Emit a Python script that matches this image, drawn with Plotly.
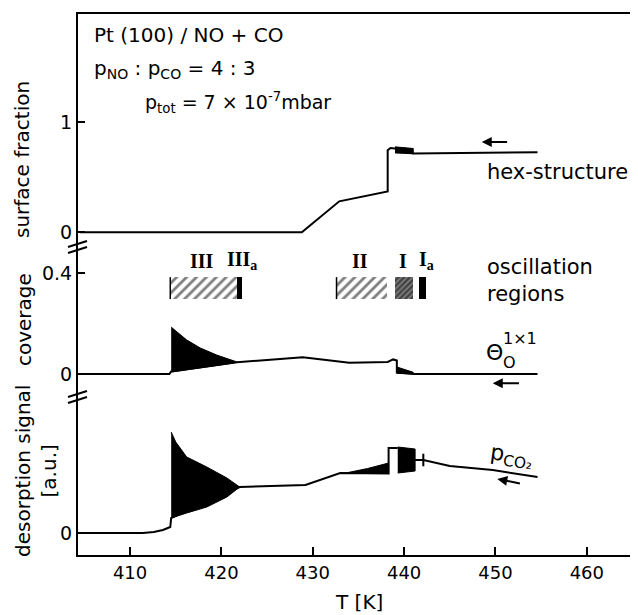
import plotly.graph_objects as go

# ---------------- data ----------------
# top panel: hex-structure (surface fraction)
hex_T = [404.5, 428.8, 432.9, 438.2, 438.2, 438.5, 439.0, 441.0, 454.6]
hex_val = [0.0, 0.0, 0.28, 0.37, 0.745, 0.765, 0.76, 0.715, 0.727]
hex_osc_T = [439.0, 440.0, 441.0]
hex_osc_hi = [0.775, 0.77, 0.76]
hex_osc_lo = [0.72, 0.715, 0.712]

# middle panel: coverage theta_O(1x1)
cov_T = [404.5, 414.3, 414.5, 421.7, 425.0, 428.9, 431.0, 434.0, 438.2, 438.8, 439.2, 439.2, 441.0, 454.6]
cov_val = [0.0, 0.0, 0.01, 0.047, 0.056, 0.067, 0.058, 0.045, 0.048, 0.058, 0.054, 0.006, 0.0, 0.0]
cov_osc_T = [414.5, 415.5, 416.2, 417.7, 419.5, 421.7]
cov_osc_hi = [0.186, 0.155, 0.135, 0.103, 0.075, 0.048]
cov_osc_lo = [0.008, 0.012, 0.016, 0.024, 0.034, 0.046]
cov_osc2_T = [439.2, 440.0, 441.0]
cov_osc2_hi = [0.028, 0.018, 0.007]
cov_osc2_lo = [0.003, 0.002, 0.001]

# oscillation regions
reg_names = ["III", "III<sub>a</sub>", "II", "I", "I<sub>a</sub>"]
reg_start = [414.4, 421.7, 432.6, 439.0, 441.6]
reg_end = [421.7, 422.3, 438.1, 441.0, 442.4]
reg_label_T = [417.9, 422.3, 435.2, 439.9, 442.5]
reg_lo, reg_hi = 0.297, 0.384

# bottom panel: desorption signal p_CO2 (a.u.)
des_T = [404.5, 411.4, 412.6, 413.6, 414.4, 414.5, 422.0, 429.2, 433.0, 438.3, 438.3, 439.3]
des_val = [0.0, 0.0, 0.01, 0.03, 0.06, 0.15, 0.46, 0.48, 0.60, 0.595, 0.85, 0.85]
des_tail_T = [441.2, 442.1, 445.0, 449.7, 454.6]
des_tail_val = [0.73, 0.73, 0.67, 0.63, 0.56]
des_osc_T = [414.5, 415.0, 416.2, 418.4, 420.6, 422.0]
des_osc_hi = [1.01, 0.91, 0.76, 0.66, 0.55, 0.46]
des_osc_lo = [0.15, 0.16, 0.20, 0.26, 0.36, 0.46]
des_wedge_T = [433.6, 436.0, 438.3]
des_wedge_hi = [0.60, 0.645, 0.70]
des_wedge_lo = [0.595, 0.595, 0.595]
des_block_T = [439.3, 441.2]
des_block_hi = [0.86, 0.84]
des_block_lo = [0.60, 0.62]

x_ticks = [410, 420, 430, 440, 450, 460]

# ---------------- figure ----------------
# page has an 8px body margin, so the figure is 8px smaller on each side
OFF = 8
W, H = 630, 607
ML, MR, MT, MB = 70, 0, 5, 60
PW, PH = W - ML - MR, H - MT - MB

def px(x):  # screen pixel -> paper
    return (x - OFF - ML) / PW

def py(y):
    return (OFF + H - MB - y) / PH

FONT = "DejaVu Sans"
LW = 2

fig = go.Figure()

def line(xs, ys, ax):
    fig.add_trace(go.Scatter(x=xs, y=ys, yaxis=ax, mode="lines",
                             line=dict(color="black", width=LW), hoverinfo="skip"))

def band(xs, hi, lo, ax):
    fig.add_trace(go.Scatter(x=list(xs) + list(xs)[::-1], y=list(hi) + list(lo)[::-1],
                             yaxis=ax, mode="lines", fill="toself", fillcolor="black",
                             line=dict(color="black", width=1), hoverinfo="skip"))

# top
line(hex_T, hex_val, "y3")
band(hex_osc_T, hex_osc_hi, hex_osc_lo, "y3")
# middle
line(cov_T, cov_val, "y2")
band(cov_osc_T, cov_osc_hi, cov_osc_lo, "y2")
band(cov_osc2_T, cov_osc2_hi, cov_osc2_lo, "y2")
# regions
hatch = dict(color="white", pattern=dict(shape="/", fgcolor="black", bgcolor="white", size=7, solidity=0.4))
styles = [
    hatch,
    dict(color="black"),
    hatch,
    dict(color="black", pattern=dict(shape="/", fgcolor="black", bgcolor="#888", size=4, solidity=0.65)),
    dict(color="black"),
]
for s, e, st in zip(reg_start, reg_end, styles):
    fig.add_trace(go.Bar(x=[(s + e) / 2], width=[e - s], base=[reg_lo], y=[reg_hi - reg_lo],
                         yaxis="y2", marker=dict(line=dict(width=0), **st), hoverinfo="skip"))
# left edges of the hatched region bars
fig.add_trace(go.Scatter(x=[reg_start[0], reg_start[0], None, reg_start[2], reg_start[2]],
                         y=[reg_lo, reg_hi, None, reg_lo, reg_hi], yaxis="y2", mode="lines",
                         line=dict(color="black", width=1.5), hoverinfo="skip"))
# bottom
line(des_T, des_val, "y")
line(des_tail_T, des_tail_val, "y")
band(des_osc_T, des_osc_hi, des_osc_lo, "y")
band(des_wedge_T, des_wedge_hi, des_wedge_lo, "y")
band(des_block_T, des_block_hi, des_block_lo, "y")
fig.add_trace(go.Scatter(x=[des_tail_T[1]], y=[des_tail_val[1]], yaxis="y", mode="markers",
                         marker=dict(symbol="line-ns", size=9, line=dict(color="black", width=2)),
                         hoverinfo="skip"))

ann = []
def text(x, y, t, yref, size=21, xanchor="left", **kw):
    ann.append(dict(x=x, y=y, xref="x", yref=yref, text=t, showarrow=False,
                    xanchor=xanchor, yanchor="middle", font=dict(family=FONT, size=size, color="black"), **kw))

# header texts (paper)
for x0, y0, t, sz in [(92, 35, "Pt (100) / NO + CO", 20),
                      (92, 69, "p<sub>NO</sub> : p<sub>CO</sub> = 4 : 3", 20),
                      (143, 103, "p<sub>tot</sub> = 7 × 10<sup>-7</sup>mbar", 19)]:
    ann.append(dict(x=px(x0), y=py(y0), xref="paper", yref="paper", text=t, showarrow=False,
                    xanchor="left", yanchor="middle", font=dict(family=FONT, size=sz, color="black")))

text(448.8, 0.545, "hex-structure", "y3")
text(448.8, 0.372, "oscillation<br>regions", "y2", align="left")
text(448.7, 0.087, "Θ", "y2", size=22)
text(450.6, 0.045, "O", "y2", size=16)
text(450.6, 0.142, "1×1", "y2", size=16)
text(451.8, 0.77, "p<sub>CO₂</sub>", "y", size=22, xanchor="center", textangle=8)

for name, t in zip(reg_names, reg_label_T):
    ann.append(dict(x=t, y=0.45, xref="x", yref="y2", text="<b>" + name + "</b>", showarrow=False,
                    xanchor="center", yanchor="middle",
                    font=dict(family="Liberation Serif", size=20, color="black")))

# arrows
for (hx, hy, tx, ty, yr) in [(448.5, 0.82, 451.6, 0.82, "y3"),
                             (449.7, -0.036, 452.9, -0.036, "y2"),
                             (450.2, 0.54, 453.0, 0.49, "y")]:
    ann.append(dict(x=hx, y=hy, ax=tx, ay=ty, xref="x", yref=yr, axref="x", ayref=yr,
                    showarrow=True, arrowhead=2, arrowsize=1, arrowwidth=2, arrowcolor="black", text=" "))

# axis titles
def title(x0, y0, t, angle=-90):
    ann.append(dict(x=px(x0), y=py(y0), xref="paper", yref="paper", text=t, textangle=angle,
                    xanchor="center", yanchor="middle", showarrow=False,
                    font=dict(family=FONT, size=20, color="black")))

title(22, 160, "surface fraction")
title(24, 320, "coverage")
title(36, 471, "desorption signal<br>[a.u.]")
title(359, 602, "T [K]", angle=0)

shapes = [dict(type="line", xref="paper", yref="paper", x0=px(76), x1=1, y0=1, y1=1,
               line=dict(color="black", width=LW))]
for yb in (247, 397):
    for d in (-3, 3):
        shapes.append(dict(type="line", xref="paper", yref="paper",
                           x0=px(68), y0=py(yb + d + 3), x1=px(87), y1=py(yb + d - 3),
                           line=dict(color="black", width=2)))

yax = dict(showline=True, linecolor="black", linewidth=LW, ticks="inside", ticklen=7, tickwidth=2,
           tickcolor="black", showgrid=False, zeroline=False, anchor="x",
           tickfont=dict(family=FONT, size=19, color="black"))

fig.update_layout(
    width=W, height=H, margin=dict(l=ML, r=MR, t=MT, b=MB),
    paper_bgcolor="white", plot_bgcolor="white", showlegend=False,
    xaxis=dict(range=[404.3, 465.6], tickvals=x_ticks, showline=True, linecolor="black",
               linewidth=LW, ticks="inside", ticklen=8, tickwidth=2, tickcolor="black",
               showgrid=False, zeroline=False, anchor="y",
               tickfont=dict(family=FONT, size=18, color="black")),
    yaxis=dict(domain=[0, 0.2915], range=[-0.22, 1.36], tickvals=[0], ticktext=["0"], **yax),
    yaxis2=dict(domain=[0.2915, 0.568], range=[-0.091, 0.503], tickvals=[0, 0.4], ticktext=["0", "0.4"], **yax),
    yaxis3=dict(domain=[0.568, 1], range=[-0.136, 1.991], tickvals=[0, 1], ticktext=["0", "1"], **yax),
    annotations=ann, shapes=shapes, bargap=0,
)

fig.write_html("out.html")
